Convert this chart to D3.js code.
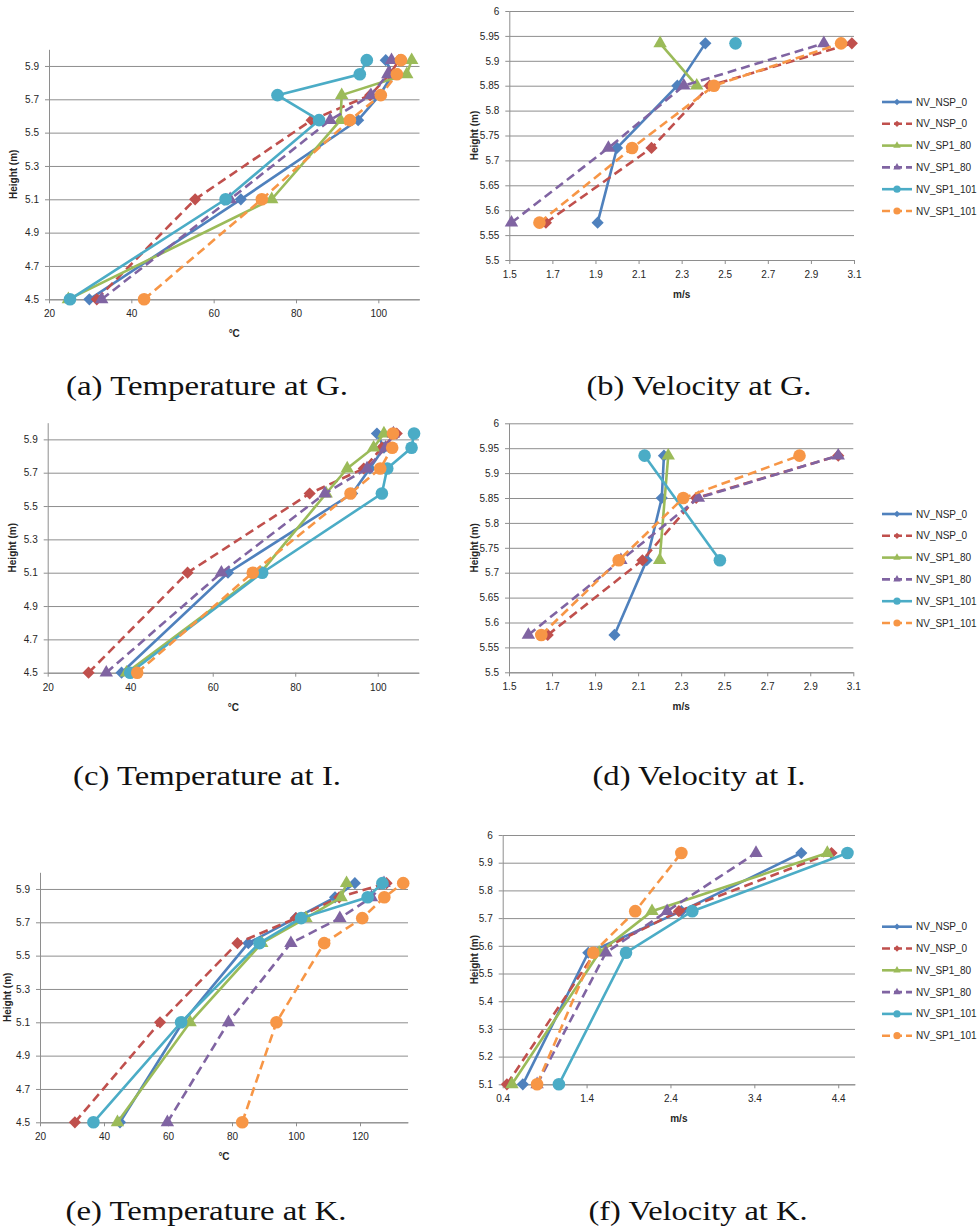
<!DOCTYPE html>
<html>
<head>
<meta charset="utf-8">
<script src="https://cdn.jsdelivr.net/npm/d3@7"></script>
<style>
  body { margin: 0; background: #fff; }
  .tick text { font-family: "Liberation Sans", Arial, sans-serif; font-size: 10px; fill: #262626; }
</style>
</head>
<body>
<div id="fig"></div>
<script>
// series (same order in every panel)
const seriesNames = ["NV_NSP_0", "NV_NSP_0", "NV_SP1_80", "NV_SP1_80", "NV_SP1_101", "NV_SP1_101"];

// heights (m) of the measuring points
const tempHeights = [4.5, 5.1, 5.575, 5.725, 5.85, 5.935];
const velHeightsGI = [5.575, 5.725, 5.85, 5.935];
const velHeightsK = [5.1, 5.575, 5.725, 5.935];

// temperature at G (°C), one row per series
const tempG = [
  [29.8, 66.6, 95.1, 100.3, 103.5, 101.8],
  [31.6, 55.5, 83.8, 98.0, 102.8, 105.0],
  [24.7, 74.1, 90.8, 91.1, 106.9, 108.1],
  [32.8, 64.0, 88.3, 98.2, 102.3, 103.2],
  [25.1, 62.9, 85.6, 75.5, 95.5, 97.2],
  [43.1, 71.7, 93.1, 100.6, 104.5, 105.5]
];
// velocity at G (m/s)
const velG = [
  [1.91, 2.00, 2.28, 2.41],
  [1.67, 2.16, 2.43, 3.09],
  [null, null, 2.37, 2.20],
  [1.51, 1.96, 2.31, 2.96],
  [null, null, null, 2.55],
  [1.64, 2.07, 2.45, 3.04]
];
// temperature at I
const tempI = [
  [37.9, 63.7, 93.8, 98.1, 101.5, 99.8],
  [29.9, 53.9, 83.5, 96.6, 101.0, 104.6],
  [39.1, 71.6, 87.5, 92.6, 99.0, 101.5],
  [34.2, 62.1, 87.2, 97.4, 101.9, 103.8],
  [40.0, 72.0, 101.0, 102.3, 108.2, 108.8],
  [41.7, 69.7, 93.4, 100.6, 103.5, 103.7]
];
// velocity at I
const velI = [
  [1.99, 2.14, 2.21, 2.22],
  [1.68, 2.12, 2.37, 3.03],
  [null, 2.20, null, 2.24],
  [1.59, 2.02, 2.38, 3.03],
  [null, 2.48, null, 2.13],
  [1.65, 2.01, 2.31, 2.85]
];
// temperature at K
const tempK = [
  [45.0, 64.6, 85.1, 99.9, 112.2, 118.4],
  [30.9, 57.5, 81.7, 100.0, 113.5, 128.3],
  [44.2, 66.9, 89.3, 103.1, 114.1, 115.8],
  [59.8, 78.9, 98.4, 113.7, 123.6, 127.5],
  [36.7, 64.1, 88.6, 101.6, 122.4, 127.0],
  [83.2, 93.9, 108.8, 120.7, 127.6, 133.5]
];
// velocity at K
const velK = [
  [0.64, 1.42, 2.53, 3.96],
  [0.45, 1.50, 2.50, 4.32],
  [0.51, 1.55, 2.18, 4.27],
  [0.81, 1.63, 2.36, 3.42],
  [1.07, 1.87, 2.66, 4.51],
  [0.81, 1.48, 1.98, 2.53]
];

// tick labels
const tempTicksX = [20, 40, 60, 80, 100];
const tempTicksXK = [20, 40, 60, 80, 100, 120];
const tempTicksY = [4.5, 4.7, 4.9, 5.1, 5.3, 5.5, 5.7, 5.9];
const velTicksX = [1.5, 1.7, 1.9, 2.1, 2.3, 2.5, 2.7, 2.9, 3.1];
const velTicksY = [5.5, 5.55, 5.6, 5.65, 5.7, 5.75, 5.8, 5.85, 5.9, 5.95, 6];
const velTicksXK = [0.4, 1.4, 2.4, 3.4, 4.4];
const velTicksYK = [5.1, 5.2, 5.3, 5.4, 5.5, 5.6, 5.7, 5.8, 5.9, 6];

const captions = ["(a) Temperature at G.", "(b) Velocity at G.", "(c) Temperature at I.",
                  "(d) Velocity at I.", "(e) Temperature at K.", "(f) Velocity at K."];

// look of each series
const colors = ["#4F81BD", "#C0504D", "#9BBB59", "#8064A2", "#4BACC6", "#F79646"];
const dashed = [false, true, false, true, false, true];
const shapes = ["diamond", "diamond", "triangle", "triangle", "circle", "circle"];

const svg = d3.select("#fig")
  .append("svg")
    .attr("width", 979)
    .attr("height", 1229);

const fmt = d => String(+d.toFixed(2));

function marker(sel, shape, big) {
  if (shape == "circle") {
    return sel.append("circle").attr("r", big ? 6.3 : 3.6);
  }
  if (shape == "triangle") {
    return sel.append("path").attr("d", d3.symbol(d3.symbolTriangle, big ? 78 : 24)());
  }
  // diamond = rotated square
  return sel.append("path").attr("d", d3.symbol(d3.symbolSquare, big ? 74 : 20)())
    .attr("transform", "rotate(45)");
}

function panel(p) {
  const x = d3.scaleLinear().domain(p.xDomain).range([p.left, p.right]);
  const y = d3.scaleLinear().domain(p.yDomain).range([p.bottom, p.top]);
  const g = svg.append("g");

  // gridlines
  g.append("g")
    .attr("transform", "translate(" + p.left + ",0)")
    .call(d3.axisLeft(y).tickValues(p.yTicks).tickSize(-(p.right - p.left)).tickFormat(""))
    .call(a => a.select(".domain").remove())
    .selectAll("line").attr("stroke", "#8e8e8e");

  // y axis
  g.append("g")
    .attr("transform", "translate(" + p.left + ",0)")
    .call(d3.axisLeft(y).tickValues(p.yTicks).tickSize(4).tickSizeOuter(0).tickPadding(6).tickFormat(fmt))
    .call(a => a.select(".domain").attr("stroke", "#8e8e8e"))
    .call(a => a.selectAll(".tick line").attr("stroke", "#8e8e8e"));

  // x axis
  g.append("g")
    .attr("transform", "translate(0," + p.bottom + ")")
    .call(d3.axisBottom(x).tickValues(p.xTicks).tickSize(4).tickSizeOuter(0).tickPadding(7).tickFormat(fmt))
    .call(a => a.select(".domain").attr("stroke", "#8e8e8e"))
    .call(a => a.selectAll(".tick line").attr("stroke", "#8e8e8e"));

  // axis titles
  g.append("text")
    .attr("x", (p.left + p.right) / 2)
    .attr("y", p.bottom + 38)
    .attr("text-anchor", "middle")
    .style("font-family", "Liberation Sans, Arial, sans-serif")
    .style("font-weight", "bold")
    .style("font-size", "10px")
    .attr("fill", "#262626")
    .text(p.xTitle);

  g.append("text")
    .attr("transform", "translate(" + p.yTitleX + "," + (p.top + p.bottom) / 2 + ") rotate(-90)")
    .attr("dy", "0.35em")
    .attr("text-anchor", "middle")
    .style("font-family", "Liberation Sans, Arial, sans-serif")
    .style("font-weight", "bold")
    .style("font-size", "10px")
    .attr("fill", "#262626")
    .text("Height (m)");

  // series
  const line = d3.line().x(d => x(d.v)).y(d => y(d.h));
  p.data.forEach(function(vals, i) {
    const pts = vals.map((v, j) => ({v: v, h: p.heights[j]})).filter(d => d.v != null);
    g.append("path")
      .datum(pts)
      .attr("fill", "none")
      .attr("stroke", colors[i])
      .attr("stroke-width", 2.6)
      .attr("stroke-dasharray", dashed[i] ? "9,5" : null)
      .attr("d", line);
    g.append("g").selectAll("g")
      .data(pts)
      .enter().append("g")
        .attr("transform", d => "translate(" + x(d.v) + "," + y(d.h) + ")")
        .each(function() { marker(d3.select(this), shapes[i], true).attr("fill", colors[i]); });
  });

  // legend (velocity panels)
  if (p.legend) {
    seriesNames.forEach(function(name, i) {
      const ly = p.legend.y + i * 21.8;
      const lg = g.append("g").attr("transform", "translate(" + p.legend.x + "," + ly + ")");
      lg.append("line")
        .attr("x1", 0).attr("x2", 30)
        .attr("stroke", colors[i])
        .attr("stroke-width", 2.6)
        .attr("stroke-dasharray", dashed[i] ? "8,4" : null);
      marker(lg.append("g").attr("transform", "translate(15,0)"), shapes[i], false).attr("fill", colors[i]);
      lg.append("text")
        .attr("x", 34)
        .attr("dy", "0.35em")
        .style("font-family", "Liberation Sans, Arial, sans-serif")
        .style("font-size", "10px")
        .attr("fill", "#262626")
        .text(name);
    });
  }

  // sub-figure caption
  svg.append("text")
    .attr("x", p.capX)
    .attr("y", p.capY)
    .attr("text-anchor", "middle")
    .attr("textLength", p.capW)
    .attr("lengthAdjust", "spacingAndGlyphs")
    .style("font-family", "'Liberation Serif', 'Times New Roman', serif")
    .style("font-size", "28px")
    .attr("fill", "#111")
    .text(p.caption);
}

const panels = [
  {xDomain: [20, 110], yDomain: [4.5, 6], left: 49, right: 419.5, top: 49.3, bottom: 299.3,
   xTicks: tempTicksX, yTicks: tempTicksY, heights: tempHeights, data: tempG,
   xTitle: "°C", yTitleX: 13, caption: captions[0], capX: 207, capY: 395, capW: 282},
  {xDomain: [1.5, 3.1], yDomain: [5.5, 6], left: 509.3, right: 854, top: 11, bottom: 260,
   xTicks: velTicksX, yTicks: velTicksY, heights: velHeightsGI, data: velG,
   xTitle: "m/s", yTitleX: 474, caption: captions[1], capX: 699, capY: 395, capW: 225,
   legend: {x: 882, y: 102}},
  {xDomain: [20, 110], yDomain: [4.5, 6], left: 47.7, right: 419, top: 422.7, bottom: 672.7,
   xTicks: tempTicksX, yTicks: tempTicksY, heights: tempHeights, data: tempI,
   xTitle: "°C", yTitleX: 12, caption: captions[2], capX: 207, capY: 785, capW: 268},
  {xDomain: [1.5, 3.1], yDomain: [5.5, 6], left: 509, right: 853.3, top: 423.3, bottom: 672.3,
   xTicks: velTicksX, yTicks: velTicksY, heights: velHeightsGI, data: velI,
   xTitle: "m/s", yTitleX: 474, caption: captions[3], capX: 699, capY: 785, capW: 213,
   legend: {x: 882, y: 514}},
  {xDomain: [20, 135], yDomain: [4.5, 6], left: 40, right: 408, top: 872.3, bottom: 1122.3,
   xTicks: tempTicksXK, yTicks: tempTicksY, heights: tempHeights, data: tempK,
   xTitle: "°C", yTitleX: 7, caption: captions[4], capX: 206, capY: 1220, capW: 281},
  {xDomain: [0.4, 4.6], yDomain: [5.1, 6], left: 502.7, right: 855, top: 835, bottom: 1084.3,
   xTicks: velTicksXK, yTicks: velTicksYK, heights: velHeightsK, data: velK,
   xTitle: "m/s", yTitleX: 474, caption: captions[5], capX: 698, capY: 1220, capW: 219,
   legend: {x: 882, y: 926.7}}
];

panels.forEach(panel);
</script>
</body>
</html>
